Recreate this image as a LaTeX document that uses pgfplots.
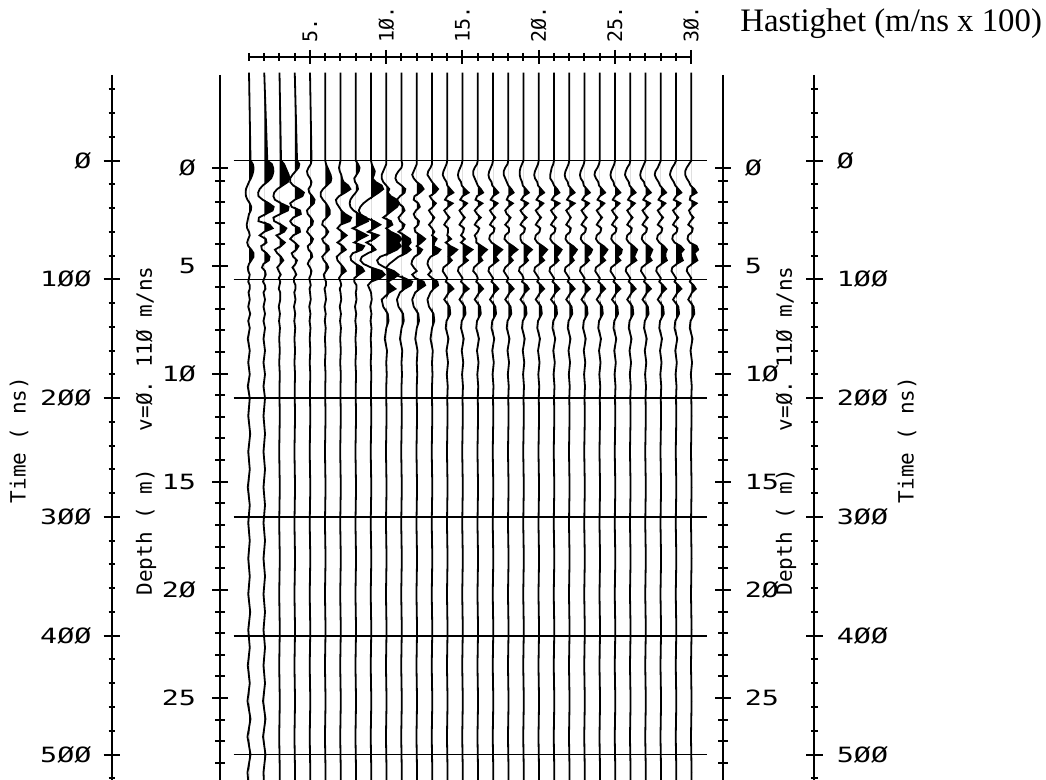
\documentclass[border=0pt]{standalone}
\usepackage{pgfplots}
\usepackage{pgfplotstable}
\pgfplotsset{compat=1.18}
\usepackage{fontspec}
\setmainfont{Liberation Serif}
\newfontfamily\plotfont{DejaVu Sans Mono}
\newfontfamily\plotwide[FakeStretch=1.35]{DejaVu Sans Mono}

% one row per trace (velocity 1..30), columns = time in ns, values = amplitude in trace spacings
\pgfplotstableread[header=has colnames]{
trace -74 0 3 6 9 12 15 18 21 24 27 30 33 36 39 42 45 48 51 54 57 60 63 66 69 72 75 78 81 84 87 90 93 96 99 102 105 108 111 117 123 129 135 141 150 160 170 180 190 200 215 230 245 260 275 290 305 320 335 350 365 380 395 410 425 440 455 470 485 500 515 530
a1 0 0.1 0.25 0.3 0.28 0.22 0.12 0 -0.1 -0.2 -0.22 -0.2 -0.1 0.05 0.15 0.12 0 -0.05 -0.1 -0.15 -0.12 0 0.05 -0.05 -0.12 -0.05 0.15 0.3 0.3 0.15 0 -0.08 -0.05 0.05 0 -0.05 0.05 0.05 -0.03 0.05 -0.05 0.08 -0.05 0.05 -0.08 0.05 -0.05 0.05 -0.08 0.05 -0.05 0.08 -0.05 0.05 -0.08 0.05 -0.05 0.05 -0.05 0.05 -0.05 0.08 -0.05 0.05 -0.08 0.05 -0.1 0.1 -0.1 0.1 -0.1 0
a2 0 0.2 0.5 0.58 0.6 0.55 0.45 0.2 -0.1 -0.3 -0.4 -0.38 -0.1 0.3 0.62 0.55 0.1 -0.35 -0.38 0.35 0.55 0 -0.3 0.1 0.15 -0.2 -0.15 0.15 0.35 0.3 -0.05 -0.15 0.05 0.1 0 -0.08 0.05 0.08 -0.05 0.05 -0.05 0.05 -0.05 0.05 -0.05 0.05 -0.05 0.05 -0.05 0.05 -0.05 0.05 -0.05 0.05 -0.05 0.05 -0.05 0.05 -0.05 0.05 -0.05 0.05 -0.05 0.05 -0.05 0.05 -0.08 0.08 -0.08 0.08 -0.05 0
a3 0 0.1 0.3 0.4 0.5 0.6 0.65 0.55 0.2 -0.15 -0.35 -0.4 -0.3 0.1 0.6 0.55 0.05 -0.4 -0.35 0.1 0.45 0.3 -0.2 0.05 0.35 0.1 -0.3 -0.15 0.1 0.25 0.05 -0.15 -0.05 0.08 -0.05 0.05 0 -0.05 0.05 0.05 -0.05 0.03 -0.03 0.03 -0.02 0.02 -0.02 0.02 0 0 0.02 0 -0.02 0 0.02 0 -0.02 0 0.02 0 -0.02 0 0.02 0 -0.02 0 0.02 0 -0.02 0 0.02 0
a4 0 0.15 0.3 0.25 0.05 -0.15 -0.3 -0.3 -0.1 0.3 0.6 0.5 0 -0.3 -0.2 0.35 0.4 -0.1 -0.3 -0.15 0.3 0.35 -0.1 -0.3 0 0.25 0.1 -0.2 -0.1 0.15 0.05 -0.15 0 0.1 -0.05 -0.05 0.05 0.05 -0.03 0.05 -0.05 0.03 -0.03 0.03 -0.02 0.02 -0.02 0.02 0 0 0.02 0 -0.02 0 0.02 0 -0.02 0 0.02 0 -0.02 0 0.02 0 -0.02 0 0.02 0 -0.02 0 0.02 0
a5 0 0.1 0.05 -0.1 -0.2 -0.15 0 0.1 0.05 -0.1 -0.05 0.15 0.3 0.25 0 -0.2 -0.15 0.05 0.2 0.15 -0.1 -0.2 0 0.2 0.1 -0.15 -0.1 0.1 0.15 -0.05 -0.15 0 0.1 0.05 -0.05 0 0.05 -0.03 0 0.05 -0.05 0.03 -0.03 0.03 -0.02 0.02 -0.02 0.02 0 0 0.02 0 -0.02 0 0.02 0 -0.02 0 0.02 0 -0.02 0 0.02 0 -0.02 0 0.02 0 -0.02 0 0.02 0
a6 0 0 0.05 0.15 0.25 0.35 0.4 0.35 0.1 -0.15 -0.3 -0.3 -0.15 0.05 0.2 0.3 0.3 0.1 -0.15 -0.2 0.05 0.2 0.05 -0.2 -0.1 0.2 0.25 0 -0.2 -0.1 0.1 0.2 0.05 -0.1 -0.05 0.05 0.05 -0.05 0 0.05 -0.05 0.03 -0.03 0.03 -0.02 0.02 -0.02 0.02 0 0 0.02 0 -0.02 0 0.02 0 -0.02 0 0.02 0 -0.02 0 0.02 0 -0.02 0 0.02 0 -0.02 0 0.02 0
a7 0 0 -0.05 -0.1 -0.05 0.05 0.1 0.2 0.5 0.65 0.3 -0.1 -0.3 -0.25 -0.1 0.05 0.3 0.7 0.6 0 -0.2 0.1 0.4 0.1 -0.2 0.15 0.35 0 -0.25 -0.2 0 0.2 0.35 0.05 -0.1 0 0.05 -0.05 0 0.05 -0.05 0.03 -0.03 0.03 -0.02 0.02 -0.02 0.02 0 0 0.02 0 -0.02 0 0.02 0 -0.02 0 0.02 0 -0.02 0 0.02 0 -0.02 0 0.02 0 -0.02 0 0.02 0
a8 0 0 0.15 0.25 0.2 0.05 -0.1 -0.05 0.1 0.15 0 -0.2 -0.35 -0.4 -0.35 -0.15 0.2 0.7 0.8 0.3 -0.2 0.3 0.75 0.3 -0.1 0.55 0.4 -0.2 -0.35 -0.3 0 0.4 0.55 0.2 -0.1 -0.1 0.05 0.05 0 0.05 -0.05 0.03 -0.03 0.03 -0.02 0.02 -0.02 0.02 0 0 0.02 0 -0.02 0 0.02 0 -0.02 0 0.02 0 -0.02 0 0.02 0 -0.02 0 0.02 0 -0.02 0 0.02 0
a9 0 0 0.05 0.15 0.25 0.2 0.1 0.3 0.7 0.8 0.5 0.15 -0.2 -0.5 -0.7 -0.8 -0.7 -0.4 0.2 0.6 0.2 -0.2 0.5 0.2 -0.3 0.1 0.3 -0.2 -0.6 -0.7 -0.5 0 0.7 0.9 0.6 0 -0.2 -0.1 0 0.05 -0.05 0.03 -0.03 0.03 -0.02 0.02 -0.02 0.02 0 0 0.02 0 -0.02 0 0.02 0 -0.02 0 0.02 0 -0.02 0 0.02 0 -0.02 0 0.02 0 -0.02 0 0.02 0
a10 0 0 0 -0.1 -0.2 -0.3 -0.3 -0.2 0 0.2 0.1 0.3 0.7 0.85 0.7 0.4 0.1 -0.2 0.3 0.4 0 0.3 0.8 1.0 0.8 0.95 0.7 0.2 -0.4 -0.6 -0.5 -0.1 0.5 0.8 0.5 0.1 0.3 0.6 0.2 -0.3 -0.2 0.1 0.15 0 -0.1 0.05 0 0.03 0 0 0.02 0 -0.02 0 0.02 0 -0.02 0 0.02 0 -0.02 0 0.02 0 -0.02 0 0.02 0 -0.02 0 0.02 0
a11 0 0 0.05 0 -0.2 -0.35 -0.4 -0.3 0 0.25 0.2 -0.1 -0.3 -0.2 0.1 0.2 0 -0.2 -0.1 0.2 0.1 -0.2 0.2 0.55 0.6 0.4 0.6 0.3 -0.2 -0.5 -0.8 -1.0 -0.9 -0.5 0.2 0.7 0.6 0.2 -0.1 -0.3 -0.2 0.1 0.15 0 -0.1 0.05 0 0.03 0 0 0.02 0 -0.02 0 0.02 0 -0.02 0 0.02 0 -0.02 0 0.02 0 -0.02 0 0.02 0 -0.02 0 0.02 0
a12 0 0 0 -0.1 -0.2 -0.3 -0.2 0 0.3 0.45 0.2 -0.15 -0.2 0.1 0.2 -0.05 -0.2 -0.1 0.15 0.1 -0.15 -0.1 0.25 0.55 0.3 0 0.35 0.2 -0.15 -0.3 -0.35 -0.2 0 -0.3 -0.1 0.45 0.55 0.2 -0.1 -0.3 -0.2 0.1 0.15 0 -0.1 0.05 0 0.03 0 0 0.02 0 -0.02 0 0.02 0 -0.02 0 0.02 0 -0.02 0 0.02 0 -0.02 0 0.02 0 -0.02 0 0.02 0
a13 0 0 0 -0.1 -0.25 -0.3 -0.15 0 0.2 0.4 0.2 -0.15 0 0.25 0.05 -0.2 -0.05 0.15 0 -0.2 0 0.15 0 0.3 0.15 0.1 0.55 0.35 -0.1 -0.25 -0.3 -0.2 -0.05 -0.25 0 0.35 0.4 0.1 -0.1 -0.3 -0.2 0.1 0.15 0 -0.1 0.05 0 0.03 0 0 0.02 0 -0.02 0 0.02 0 -0.02 0 0.02 0 -0.02 0 0.02 0 -0.02 0 0.02 0 -0.02 0 0.02 0
a14 0 0 -0.05 -0.15 -0.25 -0.3 -0.2 -0.05 0 0.2 0.4 0 -0.15 0.35 0.05 -0.2 -0.05 0.15 -0.05 -0.2 0.05 0.05 0 0.25 -0.1 0.2 0.65 0.4 0.1 0.3 0.05 -0.25 -0.3 -0.15 0 -0.1 0.2 0.4 0.1 -0.2 0.15 0.2 -0.05 -0.1 0.08 -0.05 0.05 -0.03 0.03 0 0.02 0 -0.02 0 0.02 0 -0.02 0 0.02 0 -0.02 0 0.02 0 -0.02 0 0.02 0 -0.02 0 0.02 0
a15 0 0 -0.05 -0.15 -0.25 -0.3 -0.25 -0.1 -0.05 0.15 0.4 0 -0.15 0.3 0.05 -0.2 -0.05 0.15 -0.05 -0.2 0.1 0.05 -0.1 0.15 -0.1 0.25 0.65 0.35 0.1 0.35 0.05 -0.25 -0.3 -0.15 0 -0.1 0.15 0.4 0.1 -0.2 0.15 0.2 -0.05 -0.1 0.08 -0.05 0.05 -0.03 0.03 0 0.02 0 -0.02 0 0.02 0 -0.02 0 0.02 0 -0.02 0 0.02 0 -0.02 0 0.02 0 -0.02 0 0.02 0
a16 0 0 -0.05 -0.2 -0.3 -0.3 -0.2 -0.1 0 0.2 0.35 -0.05 -0.15 0.3 0 -0.2 -0.05 0.2 -0.05 -0.2 0.1 0 -0.2 -0.1 -0.1 0.25 0.6 0.35 0.15 0.3 0 -0.25 -0.3 -0.1 0 -0.1 0.15 0.35 0.1 -0.2 0.15 0.2 -0.05 -0.1 0.08 -0.05 0.05 -0.03 0.03 0 0.02 0 -0.02 0 0.02 0 -0.02 0 0.02 0 -0.02 0 0.02 0 -0.02 0 0.02 0 -0.02 0 0.02 0
a17 0 0 -0.05 -0.15 -0.25 -0.3 -0.25 -0.1 -0.05 0.15 0.35 0 -0.15 0.3 0.05 -0.2 -0.05 0.15 -0.05 -0.2 0.1 0.05 -0.2 -0.25 -0.1 0.25 0.6 0.35 0.15 0.35 0.05 -0.25 -0.3 -0.15 0 -0.1 0.15 0.35 0.1 -0.2 0.15 0.2 -0.05 -0.1 0.08 -0.05 0.05 -0.03 0.03 0 0.02 0 -0.02 0 0.02 0 -0.02 0 0.02 0 -0.02 0 0.02 0 -0.02 0 0.02 0 -0.02 0 0.02 0
a18 0 0 -0.05 -0.2 -0.3 -0.3 -0.2 -0.1 0 0.2 0.35 0 -0.1 0.3 0 -0.2 -0.1 0.15 0 -0.2 0.05 0.05 -0.2 -0.25 -0.05 0.3 0.6 0.3 0.1 0.3 0.05 -0.2 -0.3 -0.15 0 -0.1 0.15 0.35 0.1 -0.2 0.15 0.2 -0.05 -0.1 0.08 -0.05 0.05 -0.03 0.03 0 0.02 0 -0.02 0 0.02 0 -0.02 0 0.02 0 -0.02 0 0.02 0 -0.02 0 0.02 0 -0.02 0 0.02 0
a19 0 0 -0.1 -0.2 -0.25 -0.25 -0.2 -0.1 -0.05 0.15 0.35 0 -0.15 0.3 0.05 -0.2 -0.05 0.2 -0.05 -0.2 0.1 0.05 -0.2 -0.2 -0.1 0.25 0.55 0.3 0.15 0.3 0.05 -0.25 -0.3 -0.1 0 -0.1 0.2 0.35 0.1 -0.2 0.15 0.2 -0.05 -0.1 0.08 -0.05 0.05 -0.03 0.03 0 0.02 0 -0.02 0 0.02 0 -0.02 0 0.02 0 -0.02 0 0.02 0 -0.02 0 0.02 0 -0.02 0 0.02 0
a20 0 0 -0.05 -0.15 -0.25 -0.3 -0.25 -0.1 -0.05 0.15 0.35 0 -0.15 0.3 0.05 -0.2 -0.05 0.15 -0.05 -0.2 0.1 0.05 -0.2 -0.25 -0.1 0.25 0.55 0.35 0.15 0.35 0.05 -0.25 -0.3 -0.15 0 -0.1 0.15 0.35 0.1 -0.2 0.15 0.2 -0.05 -0.1 0.08 -0.05 0.05 -0.03 0.03 0 0.02 0 -0.02 0 0.02 0 -0.02 0 0.02 0 -0.02 0 0.02 0 -0.02 0 0.02 0 -0.02 0 0.02 0
a21 0 0 -0.05 -0.15 -0.2 -0.25 -0.25 -0.1 0 0.2 0.35 0 -0.15 0.35 0.05 -0.2 -0.05 0.15 -0.05 -0.2 0.1 0.05 -0.2 -0.25 -0.1 0.2 0.5 0.35 0.15 0.3 0.05 -0.25 -0.3 -0.15 0 -0.1 0.15 0.35 0.1 -0.2 0.15 0.2 -0.05 -0.1 0.08 -0.05 0.05 -0.03 0.03 0 0.02 0 -0.02 0 0.02 0 -0.02 0 0.02 0 -0.02 0 0.02 0 -0.02 0 0.02 0 -0.02 0 0.02 0
a22 0 0 -0.05 -0.15 -0.25 -0.3 -0.25 -0.1 -0.05 0.15 0.35 0 -0.15 0.35 0.05 -0.2 -0.05 0.1 -0.05 -0.2 0.1 0.05 -0.2 -0.25 -0.1 0.25 0.5 0.35 0.15 0.3 0.05 -0.25 -0.3 -0.15 0 -0.1 0.15 0.35 0.1 -0.2 0.15 0.2 -0.05 -0.1 0.08 -0.05 0.05 -0.03 0.03 0 0.02 0 -0.02 0 0.02 0 -0.02 0 0.02 0 -0.02 0 0.02 0 -0.02 0 0.02 0 -0.02 0 0.02 0
a23 0 0 -0.05 -0.15 -0.25 -0.3 -0.25 -0.1 -0.05 0.15 0.35 0 -0.15 0.3 0.05 -0.2 -0.05 0.15 -0.05 -0.2 0.1 0.05 -0.2 -0.25 -0.1 0.25 0.5 0.4 0.15 0.3 0.05 -0.25 -0.3 -0.15 0 -0.1 0.15 0.35 0.1 -0.2 0.15 0.2 -0.05 -0.1 0.08 -0.05 0.05 -0.03 0.03 0 0.02 0 -0.02 0 0.02 0 -0.02 0 0.02 0 -0.02 0 0.02 0 -0.02 0 0.02 0 -0.02 0 0.02 0
a24 0 0 -0.05 -0.15 -0.3 -0.35 -0.25 -0.1 -0.05 0.15 0.35 0 -0.15 0.3 0.05 -0.2 -0.05 0.15 -0.05 -0.2 0.1 0.05 -0.2 -0.25 -0.1 0.25 0.5 0.35 0.15 0.35 0.05 -0.25 -0.3 -0.15 0 -0.1 0.15 0.35 0.1 -0.2 0.15 0.2 -0.05 -0.1 0.08 -0.05 0.05 -0.03 0.03 0 0.02 0 -0.02 0 0.02 0 -0.02 0 0.02 0 -0.02 0 0.02 0 -0.02 0 0.02 0 -0.02 0 0.02 0
a25 0 0 -0.05 -0.15 -0.25 -0.3 -0.25 -0.1 -0.05 0.15 0.35 0 -0.15 0.3 0.05 -0.2 -0.05 0.15 -0.05 -0.2 0.1 0.05 -0.2 -0.25 -0.1 0.2 0.45 0.4 0.15 0.35 0.05 -0.25 -0.3 -0.15 0 -0.1 0.15 0.35 0.1 -0.2 0.15 0.2 -0.05 -0.1 0.08 -0.05 0.05 -0.03 0.03 0 0.02 0 -0.02 0 0.02 0 -0.02 0 0.02 0 -0.02 0 0.02 0 -0.02 0 0.02 0 -0.02 0 0.02 0
a26 0 0 -0.05 -0.2 -0.3 -0.35 -0.25 -0.1 -0.05 0.15 0.35 0 -0.15 0.3 0.05 -0.2 -0.05 0.15 -0.05 -0.2 0.1 0.05 -0.2 -0.25 -0.1 0.2 0.45 0.35 0.25 0.4 0.05 -0.25 -0.3 -0.15 0 -0.1 0.15 0.35 0.1 -0.2 0.15 0.2 -0.05 -0.1 0.08 -0.05 0.05 -0.03 0.03 0 0.02 0 -0.02 0 0.02 0 -0.02 0 0.02 0 -0.02 0 0.02 0 -0.02 0 0.02 0 -0.02 0 0.02 0
a27 0 0 -0.1 -0.2 -0.3 -0.35 -0.3 -0.1 -0.05 0.15 0.35 0 -0.15 0.3 0.05 -0.2 -0.05 0.15 -0.05 -0.2 0.1 0.05 -0.2 -0.25 -0.1 0.2 0.45 0.35 0.25 0.4 0.05 -0.25 -0.3 -0.15 0 -0.1 0.15 0.35 0.1 -0.2 0.15 0.2 -0.05 -0.1 0.08 -0.05 0.05 -0.03 0.03 0 0.02 0 -0.02 0 0.02 0 -0.02 0 0.02 0 -0.02 0 0.02 0 -0.02 0 0.02 0 -0.02 0 0.02 0
a28 0 0 -0.1 -0.2 -0.35 -0.4 -0.3 -0.15 -0.05 0.15 0.35 0 -0.15 0.3 0.05 -0.2 -0.05 0.15 -0.05 -0.2 0.1 0.05 -0.2 -0.25 -0.1 0.2 0.4 0.3 0.3 0.4 0.05 -0.25 -0.3 -0.15 0 -0.1 0.15 0.35 0.1 -0.2 0.15 0.2 -0.05 -0.1 0.08 -0.05 0.05 -0.03 0.03 0 0.02 0 -0.02 0 0.02 0 -0.02 0 0.02 0 -0.02 0 0.02 0 -0.02 0 0.02 0 -0.02 0 0.02 0
a29 0 0 -0.1 -0.25 -0.35 -0.4 -0.3 -0.15 -0.05 0.15 0.35 0 -0.15 0.3 0.05 -0.2 -0.05 0.15 -0.05 -0.2 0.1 0.05 -0.2 -0.25 -0.1 0.3 0.5 0.3 0.35 0.45 0.05 -0.25 -0.3 -0.15 0 -0.1 0.15 0.35 0.1 -0.2 0.15 0.2 -0.05 -0.1 0.08 -0.05 0.05 -0.03 0.03 0 0.02 0 -0.02 0 0.02 0 -0.02 0 0.02 0 -0.02 0 0.02 0 -0.02 0 0.02 0 -0.02 0 0.02 0
a30 0 0 -0.15 -0.3 -0.4 -0.4 -0.3 -0.15 -0.05 0.2 0.35 -0.05 -0.1 0.35 0.05 -0.15 -0.05 0.15 -0.05 -0.2 0.1 0.05 -0.2 -0.25 -0.1 0.35 0.45 0.2 0.3 0.4 0.05 -0.25 -0.3 -0.15 0 -0.1 0.15 0.3 0.05 -0.2 0.15 0.2 -0.05 -0.1 0.08 -0.05 0.05 -0.03 0.03 0 0.02 0 -0.02 0 0.02 0 -0.02 0 0.02 0 -0.02 0 0.02 0 -0.02 0 0.02 0 -0.02 0 0.02 0
}\tracesraw
\pgfplotstabletranspose[colnames from=trace, input colnames to=t]{\traces}{\tracesraw}

\pgfplotsset{
  side/.style={scale only axis, width=4pt, height=352.6pt, xmin=0, xmax=1,
    ymin=-72, ymax=521.6, y dir=reverse, hide x axis, tick align=center,
    axis line style={line width=1pt}, tick style={line width=1pt, black},
    yticklabel style={font=\plotwide\fontsize{10.5}{12}\selectfont}},
  depthticks/.style={ytick={6.49,88.47,179.34,270.37,361.45,452.54},
    yticklabels={Ø,5,1Ø,15,2Ø,25},
    minor ytick={17.46,34.54,52.35,70.37,106.6,124.77,142.95,161.15,197.54,215.74,233.95,252.16,288.59,306.8,325.02,343.23,379.66,397.88,416.1,434.32,470.76,488.98,507.2},
    major tick length=8pt, minor tick length=5pt},
  timeticks/.style={ytick={0,100,...,500}, yticklabels={Ø,1ØØ,2ØØ,3ØØ,4ØØ,5ØØ},
    minor ytick={-60,-40,...,520}, major tick length=8.5pt, minor tick length=3.5pt},
}

\begin{document}
\begin{tikzpicture}
\path[use as bounding box] (0,0) rectangle (523pt,-390pt);

% traces
\begin{axis}[scale only axis, at={(116.875pt,-28pt)}, anchor=north west,
  width=236.4pt, height=362.1pt, xmin=0, xmax=31, ymin=-88, ymax=521.6,
  y dir=reverse, axis line style={draw=none}, xtick=\empty,
  ytick={0,100,...,500}, yticklabels={}, major tick length=0pt,
  ymajorgrids, grid style={black, line width=0.8pt}, no markers]
\pgfplotsinvokeforeach{1,...,30}{
  \addplot[draw=none, fill=black] table[x expr={#1+max(0,\thisrow{a#1})}, y=t] {\traces};
  \addplot[black, line width=0.9pt] table[x expr={#1+\thisrow{a#1}}, y=t] {\traces};
}
\end{axis}

% velocity ruler
\begin{axis}[scale only axis, at={(124.5pt,-28.5pt)}, anchor=north west,
  width=221.1pt, height=2pt, xmin=1, xmax=30, ymin=0, ymax=1,
  hide y axis, axis x line*=top, tick align=center,
  xtick={5,10,...,30}, xticklabels={5.,1Ø.,15.,2Ø.,25.,3Ø.},
  minor xtick={1,...,30}, major tick length=7pt, minor tick length=4pt,
  axis line style={line width=1pt}, tick style={line width=1pt, black},
  xticklabel style={rotate=90, anchor=west, font=\plotfont\fontsize{10}{12}\selectfont}]
\end{axis}

% left time and depth axes
\begin{axis}[side, timeticks, at={(56pt,-37.48pt)}, anchor=north west,
  axis y line*=left, yticklabel style={anchor=east, xshift=-2.5pt}]
\end{axis}
\begin{axis}[side, depthticks, at={(110pt,-37.48pt)}, anchor=north west,
  axis y line*=left, yticklabel style={anchor=east, xshift=-4.5pt}]
\end{axis}

% right depth and time axes
\begin{axis}[side, depthticks, at={(361.35pt,-37.48pt)}, anchor=north east,
  axis y line*=right, yticklabel style={anchor=west, xshift=3.5pt}]
\end{axis}
\begin{axis}[side, timeticks, at={(407.15pt,-37.48pt)}, anchor=north east,
  axis y line*=right, yticklabel style={anchor=west, xshift=3.5pt}]
\end{axis}

\begin{scope}[every node/.style={font=\plotfont\fontsize{10.5}{12}\selectfont, rotate=90}]
\node at (9.5pt,-220pt) {Time ( ns)};
\node at (453.5pt,-220pt) {Time ( ns)};
\node at (73pt,-215.5pt) {Depth ( m)\ \ \ v=Ø. 11Ø m/ns};
\node at (393pt,-215.5pt) {Depth ( m)\ \ \ v=Ø. 11Ø m/ns};
\end{scope}
\node[anchor=base west, inner sep=0pt, font=\fontsize{16.4}{19}\selectfont] at (370pt,-16pt) {Hastighet (m/ns x 100)};
\end{tikzpicture}
\end{document}
